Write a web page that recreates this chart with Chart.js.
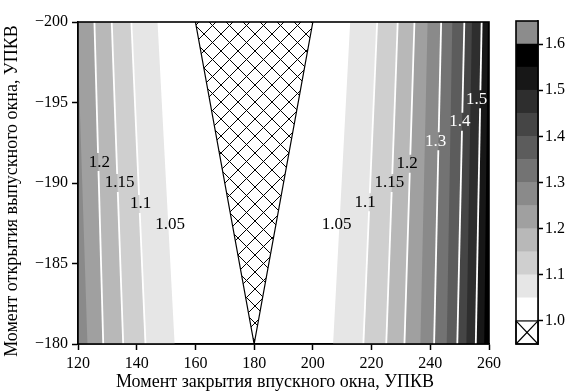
<!DOCTYPE html>
<html>
<head>
<meta charset="utf-8">
<script src="https://cdn.jsdelivr.net/npm/chart.js@4.4.1/dist/chart.umd.min.js"></script>
<style>
  html, body { margin: 0; padding: 0; background: #fff; }
  #wrap { position: relative; width: 571px; height: 392px; }
  #main { position: absolute; left: 0; top: 0; }
  #bar { position: absolute; left: 500px; top: 0; }
</style>
</head>
<body>
<div id="wrap">
  <canvas id="main" width="505" height="392"></canvas>
  <canvas id="bar" width="71" height="392"></canvas>
</div>
<script>
// contour levels, and where each level crosses the top (-200) and bottom (-180) edges
var levels = [1.05, 1.1, 1.15, 1.2, 1.25, 1.3, 1.35, 1.4, 1.45, 1.5, 1.55];
var leftTop = [146.8, 138.2, 131.5, 125.6, 119.5];
var leftBottom = [153.2, 143.0, 135.4, 128.6, 123.4];
var rightTop = [213.0, 221.9, 228.9, 234.6, 239.2, 243.7, 247.6, 251.6, 254.3, 257.5, 259.7];
var rightBottom = [206.6, 217.2, 225.0, 231.2, 236.5, 241.3, 245.5, 249.2, 252.2, 255.5, 258.3];
// fill for the band just above each level
var bandColors = ['#e6e6e6', '#cfcfcf', '#b8b8b8', '#a0a0a0', '#8a8a8a', '#737373',
                  '#5c5c5c', '#454545', '#2e2e2e', '#171717', '#000000'];
var overColor = '#8c8c8c';
// levels drawn with a white line
var lineLevels = [1.1, 1.15, 1.2, 1.3, 1.4, 1.5];
// region where the value drops below 1.0
var holeX = [160, 180, 200];
var holeY = [-200, -180, -200];

var labelText = ['1.2', '1.15', '1.1', '1.05', '1.05', '1.1', '1.15', '1.2', '1.3', '1.4', '1.5'];
var labelX = [127.3, 134.2, 141.3, 151.4, 208.1, 217.8, 226.1, 232.1, 241.8, 250.1, 255.8];
var labelY = [-191.3, -190.0, -188.7, -187.4, -187.4, -188.8, -190.0, -191.2, -192.6, -193.8, -195.2];

var xTicks = [120, 140, 160, 180, 200, 220, 240, 260];
var yTicks = [-200, -195, -190, -185, -180];
var cbTicks = [1.0, 1.1, 1.2, 1.3, 1.4, 1.5, 1.6];

var xTitle = 'Момент закрытия впускного окна, УПКВ';
var yTitle = 'Момент открытия выпускного окна, УПКВ';

var serif = 'Liberation Serif';
var labelFont = '17px "' + serif + '"';
var titleFont = '18px "' + serif + '"';

function hatch(size) {
    var c = document.createElement('canvas');
    c.width = c.height = size;
    var g = c.getContext('2d');
    g.strokeStyle = '#000';
    g.lineWidth = 1;
    g.beginPath();
    g.moveTo(0, 0); g.lineTo(size, size);
    g.moveTo(size, 0); g.lineTo(0, size);
    g.stroke();
    return g.createPattern(c, 'repeat');
}

var datasets = [];
var n = 0;
function push(ds) {
    ds.order = 1000 - n++;
    ds.pointRadius = 0;
    ds.tension = 0;
    datasets.push(ds);
}

// bands, widest first so the darker ones sit on top
levels.forEach(function (lv, i) {
    if (i < leftTop.length) {
        push({
            data: [{x: 100, y: -201}, {x: leftTop[i], y: -201}, {x: leftBottom[i], y: -179}, {x: 100, y: -179}],
            fill: 'shape', backgroundColor: bandColors[i], borderWidth: 0
        });
    }
    push({
        data: [{x: rightTop[i], y: -201}, {x: 270, y: -201}, {x: 270, y: -179}, {x: rightBottom[i], y: -179}],
        fill: 'shape', backgroundColor: bandColors[i], borderWidth: 0
    });
});

push({
    data: holeX.map(function (x, i) { return {x: x, y: holeY[i]}; }),
    fill: 'shape', backgroundColor: hatch(17), borderColor: '#000', borderWidth: 1.2
});

lineLevels.forEach(function (lv) {
    var i = levels.indexOf(lv);
    if (i < leftTop.length) {
        push({data: [{x: leftTop[i], y: -200}, {x: leftBottom[i], y: -180}],
              fill: false, borderColor: '#fff', borderWidth: 1.8, contour: true});
    }
    push({data: [{x: rightTop[i], y: -200}, {x: rightBottom[i], y: -180}],
          fill: false, borderColor: '#fff', borderWidth: 1.8, contour: true});
});

function minus(v) {
    return String(v).replace('-', '\u2212');
}

var contourLabels = {
    id: 'contourLabels',
    beforeDatasetDraw: function (chart, args) {
        if (!chart.data.datasets[args.index].contour) return;
        var ctx = chart.ctx;
        ctx.save();
        ctx.font = labelFont;
        ctx.beginPath();
        ctx.rect(0, 0, chart.width, chart.height);
        labelText.forEach(function (t, i) {
            var px = chart.scales.x.getPixelForValue(labelX[i]);
            var py = chart.scales.y.getPixelForValue(labelY[i]);
            var w = ctx.measureText(t).width / 2 + 2;
            ctx.rect(px - w, py - 9, w * 2, 18);
        });
        ctx.clip('evenodd');
    },
    afterDatasetDraw: function (chart, args) {
        if (chart.data.datasets[args.index].contour) chart.ctx.restore();
    },
    afterDatasetsDraw: function (chart) {
        var ctx = chart.ctx;
        ctx.save();
        ctx.font = labelFont;
        ctx.textAlign = 'center';
        ctx.textBaseline = 'middle';
        labelText.forEach(function (t, i) {
            ctx.fillStyle = parseFloat(t) >= 1.3 ? '#fff' : '#000';
            ctx.fillText(t, chart.scales.x.getPixelForValue(labelX[i]), chart.scales.y.getPixelForValue(labelY[i]));
        });
        ctx.restore();
    },
    afterDraw: function (chart) {
        var a = chart.chartArea, ctx = chart.ctx;
        ctx.save();
        ctx.strokeStyle = '#000';
        ctx.lineWidth = 1.6;
        ctx.strokeRect(a.left, a.top, a.right - a.left, a.bottom - a.top);
        // axis titles
        ctx.fillStyle = '#000';
        ctx.font = titleFont;
        ctx.textAlign = 'center';
        ctx.textBaseline = 'middle';
        ctx.fillText(xTitle, 275, 382);
        ctx.translate(12, 191);
        ctx.rotate(-Math.PI / 2);
        ctx.fillText(yTitle, 0, 0);
        ctx.restore();
    }
};

new Chart(document.getElementById('main'), {
    type: 'line',
    data: {datasets: datasets},
    options: {
        responsive: false,
        animation: false,
        devicePixelRatio: 1,
        layout: {padding: {top: 22, right: 10, left: 0, bottom: 0}},
        plugins: {legend: {display: false}, tooltip: {enabled: false}},
        scales: {
            x: {
                type: 'linear', min: 120, max: 260,
                afterBuildTicks: function (s) { s.ticks = xTicks.map(function (v) { return {value: v}; }); },
                afterFit: function (s) { s.height = 48; },
                grid: {drawOnChartArea: false, color: '#000', tickLength: 6, tickWidth: 1.5},
                border: {color: '#000', width: 1.6},
                ticks: {color: '#000', font: {family: serif, size: 16}, padding: 4, maxRotation: 0}
            },
            y: {
                type: 'linear', min: -200, max: -180, reverse: true,
                afterBuildTicks: function (s) { s.ticks = yTicks.map(function (v) { return {value: v}; }); },
                afterFit: function (s) { s.width = 78; },
                grid: {drawOnChartArea: false, color: '#000', tickLength: 6, tickWidth: 1.5},
                border: {color: '#000', width: 1.6},
                ticks: {color: '#000', font: {family: serif, size: 16}, padding: 4, callback: minus}
            }
        }
    },
    plugins: [contourLabels]
});

// colour bar: hatched cell below 1.0, white to 1.05, then one cell per band, grey above 1.6
var cbSets = [{data: [[0.95, 1.0]], backgroundColor: '#fff'}, {data: [[1.0, 1.05]], backgroundColor: '#fff'}];
levels.forEach(function (lv, i) {
    cbSets.push({data: [[lv, lv + 0.05]], backgroundColor: bandColors[i]});
});
cbSets.push({data: [[1.6, 1.65]], backgroundColor: overColor});
cbSets.forEach(function (ds) { ds.borderWidth = 0; ds.barPercentage = 1; ds.categoryPercentage = 1; });

var barFrame = {
    id: 'barFrame',
    afterDatasetsDraw: function (chart) {
        var ctx = chart.ctx, a = chart.chartArea;
        var cell = chart.getDatasetMeta(0).data[0];
        var top = Math.min(cell.y, cell.base), bot = Math.max(cell.y, cell.base);
        var l = a.left, r = a.right;
        ctx.save();
        ctx.strokeStyle = '#000';
        ctx.lineWidth = 1.2;
        ctx.beginPath();
        ctx.moveTo(l, top); ctx.lineTo(r, bot);
        ctx.moveTo(r, top); ctx.lineTo(l, bot);
        ctx.stroke();
        ctx.strokeRect(l, top, r - l, bot - top);
        ctx.lineWidth = 1.6;
        ctx.strokeRect(a.left, a.top, a.right - a.left, a.bottom - a.top);
        ctx.restore();
    }
};

new Chart(document.getElementById('bar'), {
    type: 'bar',
    data: {labels: [''], datasets: cbSets},
    options: {
        responsive: false,
        animation: false,
        devicePixelRatio: 1,
        layout: {padding: {top: 21, left: 16, right: 0, bottom: 48}},
        plugins: {legend: {display: false}, tooltip: {enabled: false}},
        scales: {
            x: {display: false, stacked: true},
            y: {
                position: 'right', min: 0.95, max: 1.65,
                afterBuildTicks: function (s) { s.ticks = cbTicks.map(function (v) { return {value: v}; }); },
                afterFit: function (s) { s.width = 33; },
                grid: {drawOnChartArea: false, color: '#000', tickLength: 5, tickWidth: 1.5},
                border: {color: '#000', width: 1.6},
                ticks: {color: '#000', font: {family: serif, size: 16}, padding: 2,
                        callback: function (v) { return v.toFixed(1); }}
            }
        }
    },
    plugins: [barFrame]
});
</script>
</body>
</html>
